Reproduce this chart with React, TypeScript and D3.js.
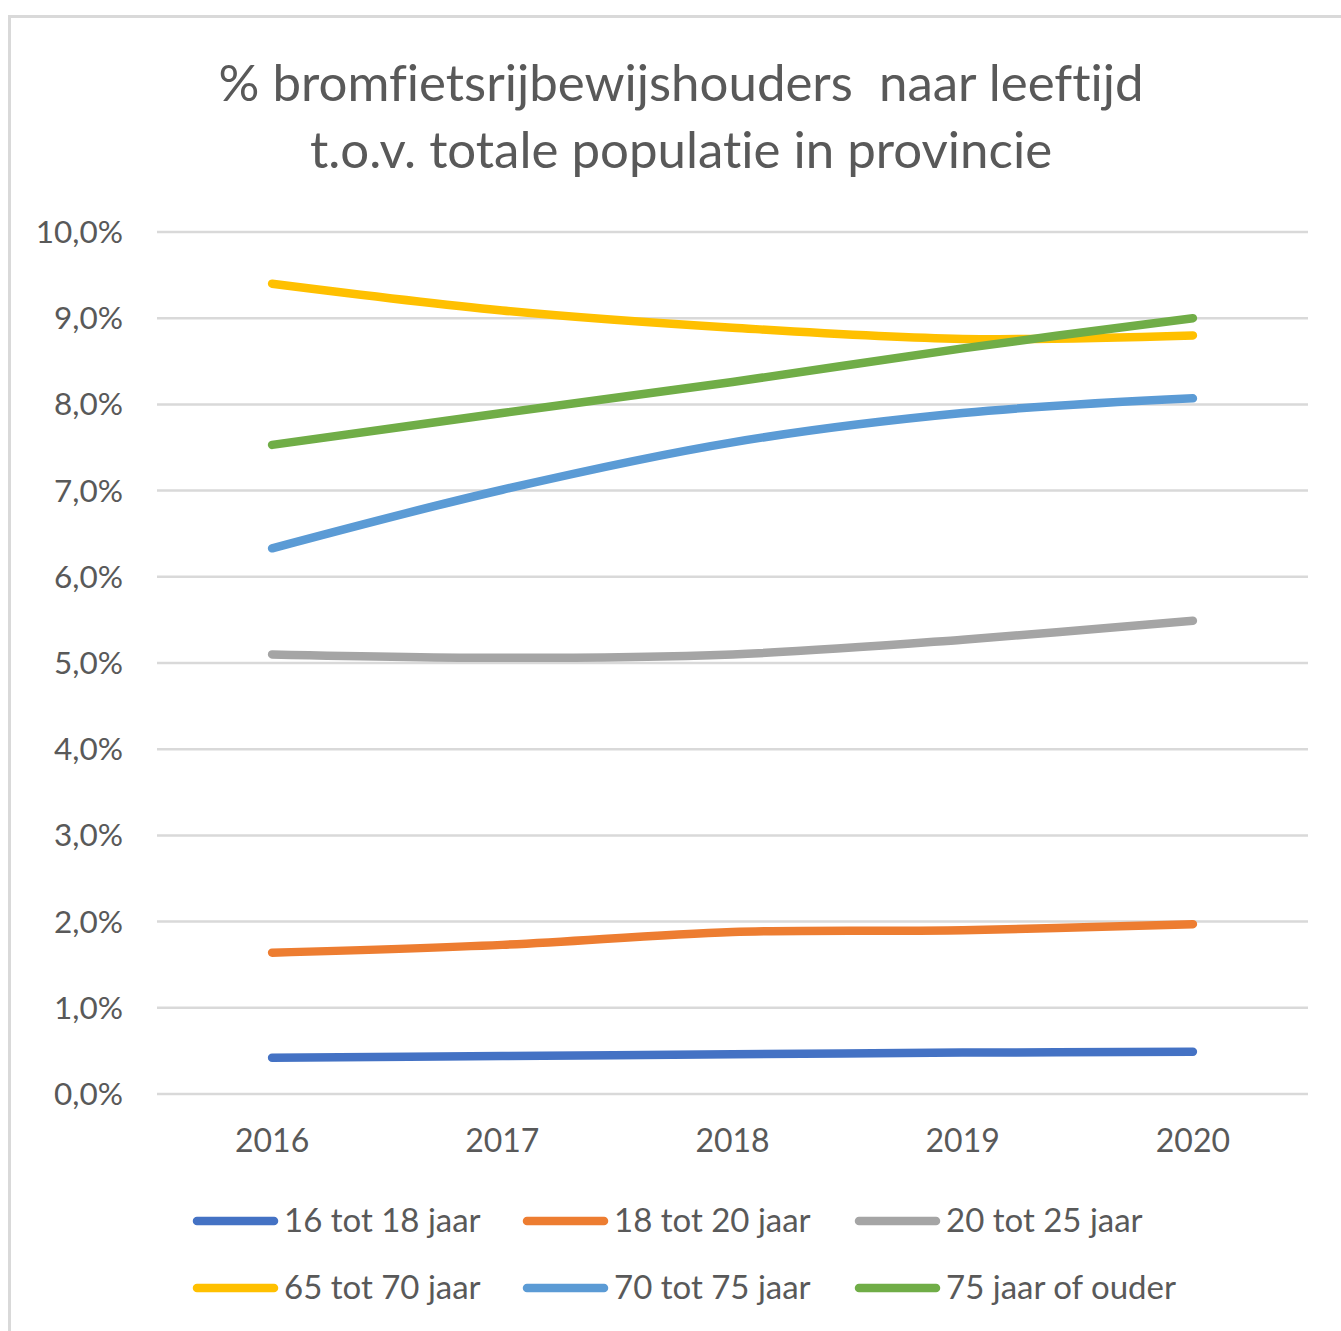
import React from "react";
import * as d3 from "d3";

const years = ["2016", "2017", "2018", "2019", "2020"];
const seriesNames = ["16 tot 18 jaar", "18 tot 20 jaar", "20 tot 25 jaar", "65 tot 70 jaar", "70 tot 75 jaar", "75 jaar of ouder"];
const s16_18 = [0.42, 0.44, 0.46, 0.48, 0.49];
const s18_20 = [1.64, 1.73, 1.88, 1.9, 1.97];
const s20_25 = [5.1, 5.06, 5.1, 5.27, 5.49];
const s65_70 = [9.4, 9.09, 8.89, 8.76, 8.8];
const s70_75 = [6.33, 7.01, 7.56, 7.9, 8.07];
const s75plus = [7.53, 7.9, 8.26, 8.65, 9.0];
const colors = ["#4472C4", "#ED7D31", "#A5A5A5", "#FFC000", "#5B9BD5", "#70AD47"];
const yTicks = [0, 1, 2, 3, 4, 5, 6, 7, 8, 9, 10];
const titleLines = ["% bromfietsrijbewijshouders  naar leeftijd", "t.o.v. totale populatie in provincie"];

const allSeries = [s16_18, s18_20, s20_25, s65_70, s70_75, s75plus];

export default function App() {
  const W = 1341, H = 1331;
  const left = 157, right = 1308, top = 232, bottom = 1094;
  const x = d3.scaleBand().domain(years).range([left, right]);
  const y = d3.scaleLinear().domain([0, 10]).range([bottom, top]);
  const line = d3
    .line<number>()
    .x((_, i) => (x(years[i]) as number) + x.bandwidth() / 2)
    .y((v) => y(v))
    .curve(d3.curveCatmullRom.alpha(0.5));
  const font = "Lato, 'Open Sans', sans-serif";
  const textColor = "#595959";
  const legendCols = [193, 523, 855];
  const legendRows = [1221, 1288];
  const noLig = { fontVariantLigatures: "none" as const, whiteSpace: "pre" as const };
  return (
    <svg width={W} height={H} style={{ position: "absolute", left: 0, top: 0 }}>
      <rect x={0} y={0} width={W} height={H} fill="#fff" />
      <rect x={9.5} y={16.5} width={W + 20} height={H + 20} fill="none" stroke="#d9d9d9" strokeWidth={3} />
      {titleLines.map((t, i) => (
        <text key={i} x={681} y={101 + i * 67} textAnchor="middle" fontFamily={font} fontSize={51} fill={textColor} style={noLig}>
          {t}
        </text>
      ))}
      {yTicks.map((t) => (
        <g key={t}>
          <line x1={left} x2={right} y1={y(t)} y2={y(t)} stroke="#d9d9d9" strokeWidth={2.5} />
          <text x={123} y={y(t) + 11} textAnchor="end" fontFamily={font} fontSize={31.5} fill={textColor}>
            {t.toFixed(1).replace(".", ",") + "%"}
          </text>
        </g>
      ))}
      {years.map((yr) => (
        <text key={yr} x={(x(yr) as number) + x.bandwidth() / 2} y={1152} textAnchor="middle" fontFamily={font} fontSize={32} fill={textColor}>
          {yr}
        </text>
      ))}
      {allSeries.map((s, i) => (
        <path key={i} d={line(s) || ""} fill="none" stroke={colors[i]} strokeWidth={8.5} strokeLinecap="round" strokeLinejoin="round" />
      ))}
      {seriesNames.map((n, i) => {
        const cx = legendCols[i % 3];
        const cy = legendRows[Math.floor(i / 3)];
        return (
          <g key={n}>
            <line x1={cx + 4} x2={cx + 81} y1={cy} y2={cy} stroke={colors[i]} strokeWidth={8.5} strokeLinecap="round" />
            <text x={cx + 91} y={cy + 11} fontFamily={font} fontSize={33} fill={textColor} style={noLig}>
              {n}
            </text>
          </g>
        );
      })}
    </svg>
  );
}
